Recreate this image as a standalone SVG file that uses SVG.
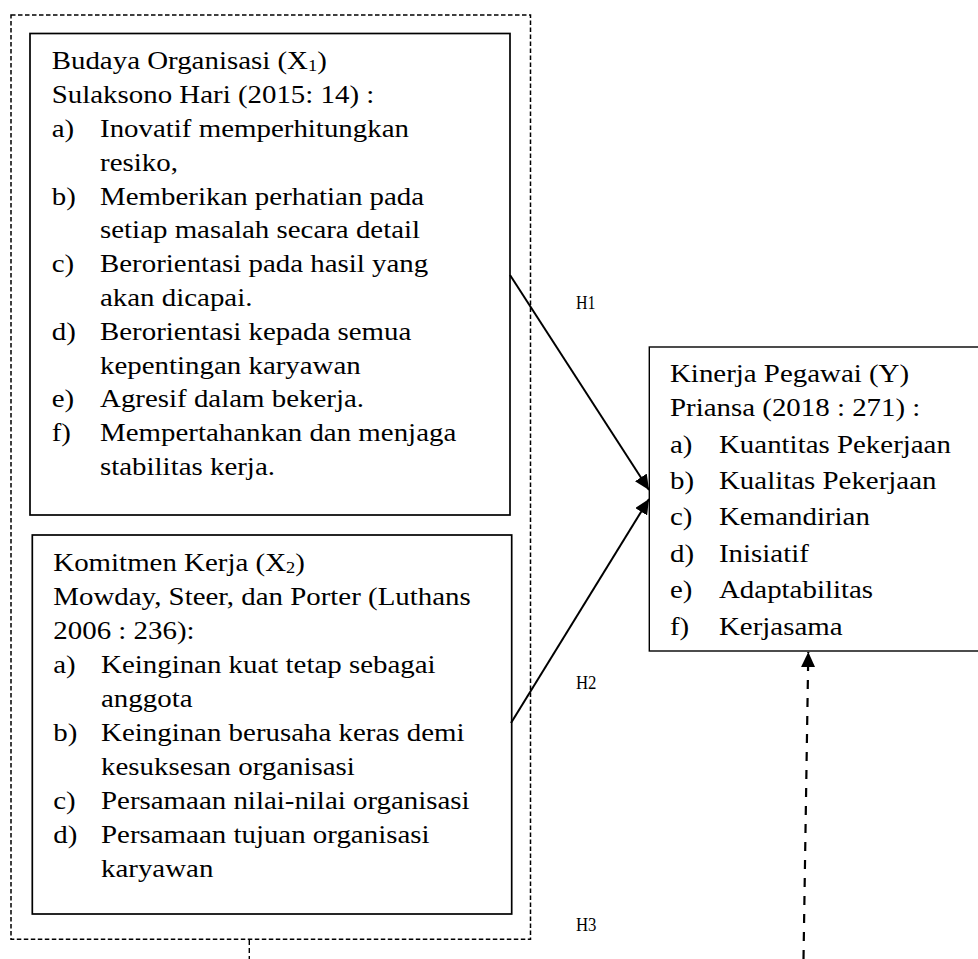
<svg xmlns="http://www.w3.org/2000/svg" width="978" height="959" viewBox="0 0 978 959">
<style>
  .bg{fill:#fff}
  .box{fill:#fff;stroke:#000;stroke-width:1.7}
  .boxy{fill:#fff;stroke:#000;stroke-width:1.4}
  .outer{fill:none;stroke:#000;stroke-width:1.5;stroke-dasharray:4.5 2.5}
  .t{font-family:"Liberation Serif","Times New Roman",serif;font-size:25px;fill:#000}
  .h{font-family:"Liberation Serif","Times New Roman",serif;font-size:18.5px;fill:#000}
  .sub{font-size:16px}
  .arr{stroke:#000;stroke-width:2;fill:none}
  .darr{stroke:#000;stroke-width:2.2;fill:none;stroke-dasharray:9 9}
  .stub{stroke:#000;stroke-width:1.4;fill:none;stroke-dasharray:5 3}
</style>
<defs>
  <marker id="head" markerUnits="userSpaceOnUse" markerWidth="15" markerHeight="14" refX="15" refY="7" orient="auto">
    <path d="M0,0 L15,7 L0,14 z" fill="#000"/>
  </marker>
</defs>
<rect class="bg" x="0" y="0" width="978" height="959"/>

<g id="outer-group">
  <rect class="outer" x="11" y="15" width="519.5" height="924.3"/>
</g>

<g id="node-budaya">
  <rect class="box" x="30" y="33.5" width="480" height="481.5"/>
  <g class="t" transform="translate(51.7,0) scale(1.156,1)">
    <text x="0" y="69.5">Budaya Organisasi (X<tspan class="sub" dy="2">1</tspan><tspan dy="-2">)</tspan></text>
    <text x="0" y="103.3">Sulaksono Hari (2015: 14) :</text>
    <text x="0" y="137.1">a)</text><text x="41.8" y="137.1">Inovatif memperhitungkan</text>
    <text x="41.8" y="170.9">resiko,</text>
    <text x="0" y="204.7">b)</text><text x="41.8" y="204.7">Memberikan perhatian pada</text>
    <text x="41.8" y="238.5">setiap masalah secara detail</text>
    <text x="0" y="272.3">c)</text><text x="41.8" y="272.3">Berorientasi pada hasil yang</text>
    <text x="41.8" y="306.1">akan dicapai.</text>
    <text x="0" y="339.9">d)</text><text x="41.8" y="339.9">Berorientasi kepada semua</text>
    <text x="41.8" y="373.7">kepentingan karyawan</text>
    <text x="0" y="407.5">e)</text><text x="41.8" y="407.5">Agresif dalam bekerja.</text>
    <text x="0" y="441.3">f)</text><text x="41.8" y="441.3">Mempertahankan dan menjaga</text>
    <text x="41.8" y="475.1">stabilitas kerja.</text>
  </g>
</g>

<g id="node-komitmen">
  <rect class="box" x="32.3" y="535" width="479.4" height="379"/>
  <g class="t" transform="translate(53.3,0) scale(1.156,1)">
    <text x="0" y="571">Komitmen Kerja (X<tspan class="sub" dy="2">2</tspan><tspan dy="-2">)</tspan></text>
    <text x="0" y="605">Mowday, Steer, dan Porter (Luthans</text>
    <text x="0" y="639">2006 : 236):</text>
    <text x="0" y="673">a)</text><text x="41.3" y="673">Keinginan kuat tetap sebagai</text>
    <text x="41.3" y="707">anggota</text>
    <text x="0" y="741">b)</text><text x="41.3" y="741">Keinginan berusaha keras demi</text>
    <text x="41.3" y="775">kesuksesan organisasi</text>
    <text x="0" y="809">c)</text><text x="41.3" y="809">Persamaan nilai-nilai organisasi</text>
    <text x="0" y="843">d)</text><text x="41.3" y="843">Persamaan tujuan organisasi</text>
    <text x="41.3" y="877">karyawan</text>
  </g>
</g>

<g id="node-kinerja">
  <rect class="boxy" x="649.3" y="347" width="335" height="304"/>
  <g class="t" transform="translate(670,0) scale(1.156,1)">
    <text x="0" y="382">Kinerja Pegawai (Y)</text>
    <text x="0" y="416">Priansa (2018 : 271) :</text>
    <text x="0" y="453">a)</text><text x="42.4" y="453">Kuantitas Pekerjaan</text>
    <text x="0" y="489">b)</text><text x="42.4" y="489">Kualitas Pekerjaan</text>
    <text x="0" y="525.5">c)</text><text x="42.4" y="525.5">Kemandirian</text>
    <text x="0" y="562">d)</text><text x="42.4" y="562">Inisiatif</text>
    <text x="0" y="598">e)</text><text x="42.4" y="598">Adaptabilitas</text>
    <text x="0" y="635">f)</text><text x="42.4" y="635">Kerjasama</text>
  </g>
</g>

<g id="connectors">
  <line class="arr" x1="510" y1="275" x2="649" y2="490" marker-end="url(#head)"/>
  <line class="arr" x1="511" y1="723" x2="649" y2="499" marker-end="url(#head)"/>
  <line class="darr" x1="803.5" y1="959" x2="808.3" y2="652" marker-end="url(#head)"/>
  <line class="stub" x1="249.3" y1="940" x2="249.3" y2="959"/>
  <text class="h" x="576" y="309" textLength="19.5" lengthAdjust="spacingAndGlyphs">H1</text>
  <text class="h" x="576" y="689" textLength="20.5" lengthAdjust="spacingAndGlyphs">H2</text>
  <text class="h" x="576" y="931" textLength="20.5" lengthAdjust="spacingAndGlyphs">H3</text>
</g>
</svg>
